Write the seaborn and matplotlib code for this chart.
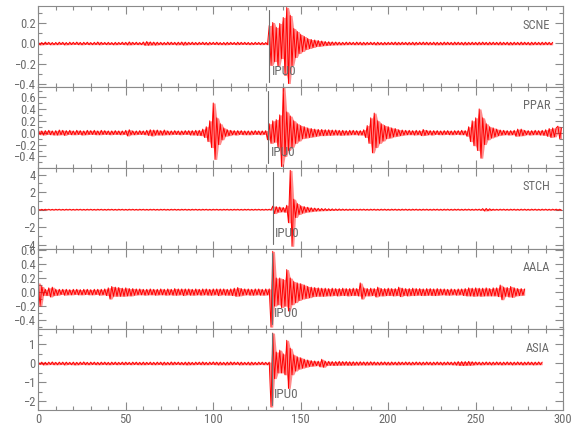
import matplotlib
matplotlib.use('Agg')
import matplotlib.pyplot as plt
from matplotlib import font_manager
import numpy as np
import pandas as pd
import seaborn as sns
from matplotlib.ticker import MultipleLocator

# ============================================================
# Five station traces, picked P arrival (IPU0)
# values: signed peak/trough per second
# ============================================================

STATIONS = ["SCNE", "PPAR", "STCH", "AALA", "ASIA"]
PICK_TIMES = [132.0, 131.5, 134.0, 133.4, 133.4]
PICK_LABEL = "IPU0"
Y_LIMITS = [(-0.434, 0.373), (-0.59, 0.77), (-4.45, 4.8), (-0.53, 0.62), (-2.46, 1.8)]
Y_MAJOR = [0.2, 0.2, 2, 0.2, 1]
Y_MINOR = [0.1, 0.1, 1, 0.1, 0.5]
X_TICKS = [0, 50, 100, 150, 200, 250, 300]

scne = [
    0.012, -0.015, 0.010, -0.012, 0.014, -0.010, 0.012, -0.013, 0.010, -0.012,
    0.011, -0.012, 0.013, -0.010, 0.012, -0.014, 0.010, -0.012, 0.013, -0.011,
    0.012, -0.010, 0.014, -0.012, 0.011, -0.013, 0.012, -0.010, 0.013, -0.012,
    0.010, -0.012, 0.012, -0.011, 0.015, -0.013, 0.012, -0.010, 0.011, -0.012,
    0.012, -0.011, 0.010, -0.013, 0.012, -0.012, 0.011, -0.010, 0.013, -0.012,
    0.012, -0.014, 0.016, -0.013, 0.012, -0.011, 0.013, -0.012, 0.010, -0.012,
    0.015, -0.018, 0.020, -0.017, 0.016, -0.015, 0.014, -0.016, 0.013, -0.012,
    0.012, -0.013, 0.011, -0.012, 0.014, -0.012, 0.013, -0.011, 0.012, -0.014,
    0.013, -0.012, 0.015, -0.016, 0.014, -0.013, 0.012, -0.011, 0.013, -0.012,
    0.011, -0.012, 0.012, -0.010, 0.013, -0.012, 0.011, -0.013, 0.012, -0.010,
    0.012, -0.011, 0.013, -0.012, 0.010, -0.012, 0.011, -0.013, 0.012, -0.011,
    0.012, -0.010, 0.011, -0.012, 0.013, -0.011, 0.012, -0.010, 0.012, -0.011,
    0.011, -0.012, 0.010, -0.011, 0.012, -0.010, 0.011, -0.012, 0.010, -0.011,
    0.010, -0.012, 0.180, -0.220, 0.210, -0.180, 0.160, -0.230, 0.200, -0.150,
    0.260, -0.320, 0.360, -0.400, 0.280, -0.220, 0.150, -0.140, 0.120, -0.100,
    0.090, -0.080, 0.070, -0.060, 0.050, -0.050, 0.040, -0.040, 0.035, -0.030,
    0.030, -0.028, 0.025, -0.022, 0.020, -0.020, 0.018, -0.017, 0.016, -0.015,
    0.015, -0.014, 0.013, -0.014, 0.012, -0.013, 0.014, -0.012, 0.013, -0.012,
    0.012, -0.013, 0.014, -0.012, 0.013, -0.014, 0.012, -0.013, 0.012, -0.011,
    0.013, -0.012, 0.012, -0.014, 0.013, -0.012, 0.011, -0.013, 0.012, -0.012,
    0.012, -0.011, 0.013, -0.012, 0.014, -0.013, 0.012, -0.012, 0.013, -0.011,
    0.012, -0.013, 0.012, -0.012, 0.013, -0.014, 0.012, -0.011, 0.013, -0.012,
    0.014, -0.012, 0.013, -0.013, 0.012, -0.012, 0.013, -0.014, 0.012, -0.013,
    0.012, -0.013, 0.014, -0.012, 0.013, -0.012, 0.012, -0.013, 0.014, -0.012,
    0.013, -0.012, 0.012, -0.014, 0.013, -0.013, 0.012, -0.012, 0.013, -0.012,
    0.012, -0.013, 0.013, -0.012, 0.014, -0.012, 0.012, -0.013, 0.013, -0.012,
    0.013, -0.012, 0.012, -0.013, 0.014, -0.013, 0.012, -0.012, 0.013, -0.014,
    0.012, -0.013, 0.013, -0.012, 0.012, -0.013, 0.014, -0.012, 0.013, -0.012,
    0.012, -0.014, 0.013, -0.012, 0.013, -0.012, 0.012, -0.013, 0.013, -0.012,
    0.013, -0.012, 0.012, -0.013, 0.012,
]

ppar = [
    0.040, -0.035, 0.030, -0.040, 0.035, -0.030, 0.040, -0.035, 0.030, -0.040,
    0.035, -0.040, 0.045, -0.035, 0.040, -0.045, 0.035, -0.030, 0.040, -0.035,
    0.030, -0.035, 0.040, -0.030, 0.035, -0.040, 0.030, -0.035, 0.040, -0.030,
    0.035, -0.030, 0.040, -0.035, 0.030, -0.035, 0.040, -0.030, 0.035, -0.030,
    0.030, -0.035, 0.030, -0.030, 0.035, -0.030, 0.030, -0.035, 0.030, -0.030,
    0.040, -0.055, 0.050, -0.035, 0.030, -0.035, 0.030, -0.030, 0.035, -0.030,
    0.030, -0.035, 0.040, -0.045, 0.050, -0.055, 0.045, -0.040, 0.045, -0.040,
    0.035, -0.040, 0.045, -0.035, 0.030, -0.035, 0.030, -0.030, 0.035, -0.030,
    0.030, -0.035, 0.030, -0.030, 0.035, -0.030, 0.035, -0.040, 0.035, -0.040,
    0.040, -0.045, 0.040, -0.050, 0.060, -0.080, 0.100, -0.150, 0.200, -0.250,
    0.500, -0.450, 0.250, -0.200, 0.150, -0.120, 0.080, -0.060, 0.050, -0.050,
    0.040, -0.035, 0.035, -0.040, 0.035, -0.030, 0.035, -0.035, 0.030, -0.035,
    0.030, -0.035, 0.030, -0.030, 0.035, -0.030, 0.030, -0.035, 0.030, -0.030,
    0.035, -0.120, 0.150, -0.180, 0.200, -0.160, 0.220, -0.250, 0.300, -0.570,
    0.770, -0.400, 0.350, -0.300, 0.280, -0.250, 0.200, -0.180, 0.150, -0.140,
    0.120, -0.100, 0.100, -0.090, 0.080, -0.080, 0.070, -0.070, 0.060, -0.060,
    0.055, -0.050, 0.055, -0.050, 0.050, -0.045, 0.050, -0.045, 0.045, -0.040,
    0.045, -0.040, 0.040, -0.045, 0.040, -0.040, 0.035, -0.040, 0.040, -0.035,
    0.040, -0.035, 0.035, -0.040, 0.035, -0.040, 0.050, -0.080, 0.120, -0.180,
    0.250, -0.340, 0.330, -0.250, 0.200, -0.180, 0.150, -0.140, 0.120, -0.100,
    0.100, -0.090, 0.080, -0.070, 0.070, -0.060, 0.050, -0.050, 0.045, -0.040,
    0.040, -0.035, 0.040, -0.035, 0.035, -0.040, 0.040, -0.035, 0.035, -0.050,
    0.055, -0.045, 0.040, -0.035, 0.035, -0.040, 0.035, -0.030, 0.035, -0.035,
    0.030, -0.035, 0.035, -0.030, 0.035, -0.035, 0.030, -0.035, 0.035, -0.030,
    0.035, -0.035, 0.040, -0.035, 0.035, -0.060, 0.100, -0.150, 0.200, -0.220,
    0.250, -0.300, 0.400, -0.430, 0.250, -0.200, 0.150, -0.120, 0.100, -0.090,
    0.080, -0.070, 0.060, -0.050, 0.045, -0.040, 0.040, -0.035, 0.035, -0.040,
    0.035, -0.035, 0.040, -0.060, 0.060, -0.055, 0.060, -0.050, 0.040, -0.035,
    0.035, -0.040, 0.035, -0.035, 0.040, -0.035, 0.035, -0.040, 0.040, -0.045,
    0.050, -0.060, 0.070, -0.080, 0.080, -0.070, 0.080, 0.110, -0.100, 0.080,
]

stch = [
    0.05, -0.05, 0.04, -0.05, 0.05, -0.04, 0.05, -0.05, 0.04, -0.05,
    0.05, -0.04, 0.05, -0.05, 0.04, -0.05, 0.05, -0.04, 0.05, -0.05,
    0.04, -0.05, 0.05, -0.04, 0.05, -0.05, 0.04, -0.05, 0.05, -0.04,
    0.05, -0.05, 0.04, -0.05, 0.05, -0.04, 0.05, -0.05, 0.04, -0.05,
    0.05, -0.04, 0.05, -0.05, 0.04, -0.05, 0.05, -0.04, 0.05, -0.05,
    0.04, -0.05, 0.05, -0.04, 0.05, -0.05, 0.04, -0.05, 0.05, -0.04,
    0.05, -0.05, 0.04, -0.05, 0.05, -0.04, 0.05, -0.05, 0.04, -0.05,
    0.05, -0.04, 0.05, -0.05, 0.04, -0.05, 0.05, -0.04, 0.05, -0.05,
    0.04, -0.05, 0.05, -0.04, 0.05, -0.05, 0.04, -0.05, 0.05, -0.04,
    0.05, -0.05, 0.04, -0.05, 0.05, -0.04, 0.05, -0.05, 0.04, -0.05,
    0.05, -0.04, 0.05, -0.05, 0.04, -0.05, 0.05, -0.04, 0.05, -0.05,
    0.04, -0.05, 0.05, -0.04, 0.05, -0.05, 0.04, -0.05, 0.05, -0.04,
    0.05, -0.05, 0.04, -0.05, 0.05, -0.04, 0.05, -0.05, 0.04, -0.05,
    0.05, -0.04, 0.05, -0.05, 0.40, -0.45, 0.35, -0.30, 0.30, -0.25,
    0.25, -0.30, 0.50, -1.50, 4.50, -4.20, 1.20, -0.90, 0.70, -0.55,
    0.45, -0.40, 0.35, -0.30, 0.28, -0.25, 0.22, -0.20, 0.18, -0.16,
    0.15, -0.14, 0.13, -0.12, 0.12, -0.11, 0.10, -0.10, 0.09, -0.09,
    0.08, -0.08, 0.08, -0.07, 0.07, -0.07, 0.06, -0.07, 0.06, -0.06,
    0.06, -0.06, 0.05, -0.06, 0.06, -0.05, 0.06, -0.06, 0.05, -0.06,
    0.06, -0.05, 0.06, -0.06, 0.05, -0.06, 0.06, -0.05, 0.06, -0.06,
    0.05, -0.06, 0.06, -0.05, 0.06, -0.06, 0.05, -0.06, 0.06, -0.05,
    0.06, -0.06, 0.05, -0.06, 0.06, -0.05, 0.06, -0.06, 0.05, -0.06,
    0.06, -0.05, 0.06, -0.06, 0.05, -0.06, 0.06, -0.05, 0.06, -0.06,
    0.05, -0.06, 0.06, -0.05, 0.06, -0.06, 0.05, -0.06, 0.06, -0.05,
    0.06, -0.06, 0.05, -0.06, 0.06, -0.05, 0.06, -0.06, 0.05, -0.06,
    0.06, -0.05, 0.06, -0.08, 0.12, -0.15, 0.14, -0.12, 0.10, -0.08,
    0.06, -0.06, 0.05, -0.06, 0.06, -0.05, 0.06, -0.06, 0.05, -0.06,
    0.06, -0.05, 0.06, -0.06, 0.05, -0.06, 0.06, -0.05, 0.06, -0.06,
    0.05, -0.06, 0.06, -0.05, 0.06, -0.06, 0.05, -0.06, 0.06, -0.05,
    0.06, -0.06, 0.05, -0.06, 0.06, -0.05, 0.06, -0.06, 0.05, -0.06,
]

aala = [
    0.130, -0.200, 0.080, -0.050, 0.040, -0.050, 0.060, -0.070, 0.070, -0.050,
    0.040, -0.045, 0.040, -0.035, 0.040, -0.045, 0.040, -0.040, 0.035, -0.040,
    0.040, -0.035, 0.040, -0.040, 0.035, -0.040, 0.040, -0.035, 0.040, -0.040,
    0.035, -0.040, 0.040, -0.035, 0.040, -0.045, 0.040, -0.040, 0.045, -0.050,
    0.060, -0.100, 0.080, -0.060, 0.070, -0.060, 0.065, -0.060, 0.055, -0.060,
    0.060, -0.055, 0.050, -0.055, 0.050, -0.045, 0.045, -0.040, 0.045, -0.040,
    0.040, -0.045, 0.040, -0.040, 0.045, -0.040, 0.040, -0.045, 0.040, -0.040,
    0.045, -0.040, 0.040, -0.045, 0.045, -0.040, 0.040, -0.045, 0.050, -0.045,
    0.045, -0.040, 0.045, -0.050, 0.045, -0.040, 0.045, -0.045, 0.040, -0.045,
    0.045, -0.040, 0.040, -0.045, 0.045, -0.040, 0.045, -0.045, 0.040, -0.045,
    0.045, -0.040, 0.045, -0.050, 0.045, -0.040, 0.045, -0.045, 0.040, -0.045,
    0.045, -0.050, 0.055, -0.060, 0.065, -0.055, 0.050, -0.045, 0.045, -0.040,
    0.045, -0.045, 0.040, -0.045, 0.045, -0.040, 0.045, -0.045, 0.040, -0.045,
    0.045, -0.040, 0.045, -0.500, 0.580, -0.200, 0.200, -0.180, 0.200, -0.220,
    0.180, -0.200, 0.320, -0.270, 0.200, -0.180, 0.150, -0.150, 0.130, -0.120,
    0.120, -0.100, 0.100, -0.090, 0.080, -0.080, 0.070, -0.065, 0.065, -0.060,
    0.060, -0.060, 0.055, -0.060, 0.055, -0.055, 0.050, -0.055, 0.055, -0.050,
    0.050, -0.055, 0.050, -0.050, 0.055, -0.050, 0.050, -0.055, 0.050, -0.050,
    0.055, -0.050, 0.050, -0.055, 0.130, -0.100, 0.060, -0.055, 0.050, -0.055,
    0.055, -0.050, 0.050, -0.070, 0.070, -0.055, 0.050, -0.055, 0.050, -0.050,
    0.055, -0.050, 0.050, -0.055, 0.050, -0.050, 0.070, -0.065, 0.055, -0.050,
    0.050, -0.055, 0.050, -0.050, 0.055, -0.050, 0.050, -0.045, 0.050, -0.050,
    0.045, -0.050, 0.050, -0.045, 0.050, -0.050, 0.045, -0.050, 0.050, -0.045,
    0.045, -0.040, 0.045, -0.045, 0.040, -0.045, 0.045, -0.040, 0.040, -0.045,
    0.045, -0.040, 0.045, -0.050, 0.050, -0.055, 0.060, -0.055, 0.055, -0.060,
    0.060, -0.055, 0.055, -0.060, 0.055, -0.055, 0.060, -0.055, 0.050, -0.055,
    0.060, -0.055, 0.060, -0.065, 0.100, -0.110, 0.070, -0.060, 0.065, -0.070,
    0.080, -0.075, 0.060, -0.055, 0.050, -0.050, 0.050, -0.045, 0.045,
]

asia = [
    0.07, -0.06, 0.07, -0.08, 0.06, -0.07, 0.07, -0.06, 0.08, -0.07,
    0.06, -0.07, 0.07, -0.06, 0.07, -0.08, 0.07, -0.06, 0.06, -0.07,
    0.07, -0.08, 0.06, -0.07, 0.07, -0.06, 0.08, -0.07, 0.06, -0.07,
    0.07, -0.06, 0.07, -0.07, 0.06, -0.07, 0.07, -0.06, 0.07, -0.07,
    0.06, -0.07, 0.07, -0.06, 0.07, -0.07, 0.06, -0.06, 0.07, -0.07,
    0.07, -0.06, 0.06, -0.07, 0.07, -0.06, 0.07, -0.07, 0.06, -0.07,
    0.07, -0.07, 0.06, -0.06, 0.07, -0.07, 0.06, -0.07, 0.07, -0.06,
    0.07, -0.08, 0.07, -0.07, 0.06, -0.07, 0.08, -0.07, 0.07, -0.06,
    0.07, -0.07, 0.06, -0.07, 0.07, -0.08, 0.07, -0.07, 0.06, -0.07,
    0.07, -0.06, 0.07, -0.07, 0.08, -0.07, 0.06, -0.07, 0.07, -0.06,
    0.08, -0.07, 0.07, -0.08, 0.07, -0.07, 0.06, -0.08, 0.07, -0.07,
    0.08, -0.07, 0.07, -0.06, 0.07, -0.08, 0.07, -0.07, 0.06, -0.07,
    0.07, -0.08, 0.07, -0.07, 0.06, -0.07, 0.07, -0.06, 0.07, -0.07,
    0.06, -0.07, 0.07, -2.30, 1.60, -0.80, 0.60, -0.50, 0.70, -0.50,
    0.50, -0.60, 1.22, -1.32, 0.80, -0.60, 0.45, -0.40, 0.35, -0.30,
    0.30, -0.25, 0.22, -0.20, 0.18, -0.16, 0.15, -0.14, 0.13, -0.12,
    0.12, -0.18, 0.22, -0.20, 0.12, -0.11, 0.11, -0.10, 0.10, -0.11,
    0.10, -0.10, 0.11, -0.10, 0.10, -0.09, 0.10, -0.10, 0.09, -0.10,
    0.09, -0.09, 0.08, -0.09, 0.09, -0.08, 0.08, -0.09, 0.08, -0.08,
    0.09, -0.08, 0.08, -0.08, 0.07, -0.08, 0.08, -0.07, 0.08, -0.08,
    0.07, -0.08, 0.08, -0.07, 0.07, -0.08, 0.08, -0.07, 0.07, -0.07,
    0.08, -0.07, 0.07, -0.08, 0.07, -0.07, 0.08, -0.07, 0.07, -0.08,
    0.07, -0.07, 0.08, -0.07, 0.07, -0.08, 0.07, -0.07, 0.08, -0.07,
    0.07, -0.08, 0.07, -0.07, 0.08, -0.07, 0.07, -0.08, 0.08, -0.09,
    0.10, -0.11, 0.10, -0.11, 0.10, -0.10, 0.11, -0.10, 0.09, -0.08,
    0.08, -0.07, 0.07, -0.08, 0.07, -0.07, 0.08, -0.07, 0.07, -0.08,
    0.07, -0.07, 0.08, -0.07, 0.07, -0.08, 0.07, -0.07, 0.08, -0.07,
    0.07, -0.08, 0.07, -0.07, 0.08, -0.07, 0.07, -0.08, 0.07, -0.07,
    0.08, -0.07, 0.07, -0.08, 0.07, -0.07, 0.08, -0.07, 0.07,
]

TRACES = [scne, ppar, stch, aala, asia]

sns.set_style("ticks")
installed = {f.name for f in font_manager.fontManager.ttflist}
narrow = [f for f in ["Liberation Sans Narrow", "DejaVu Sans Condensed",
                      "Roboto Condensed", "Liberation Sans"] if f in installed]
plt.rcParams['font.family'] = narrow[:1] + ['DejaVu Sans']

TRACE_RED = "#ff0000"
TEXT_GREY = "#6a6a6a"
AXIS_GREY = "#8a8a8a"
PICK_GREY = "#707070"

fig, axes = plt.subplots(5, 1, sharex=True, figsize=(5.8, 4.4), dpi=100)
fig.subplots_adjust(left=0.066, right=0.971, bottom=0.068, top=0.986, hspace=0)

for ax, name, vals, pick, ylim, ymaj, ymin in zip(
        axes, STATIONS, TRACES, PICK_TIMES, Y_LIMITS, Y_MAJOR, Y_MINOR):
    df = pd.DataFrame({"time": np.arange(len(vals)), "amp": vals})
    # band between neighbouring peak and trough, so the noise reads as a solid trace
    hi = df["amp"].rolling(2, min_periods=1).max().clip(lower=0)
    lo = df["amp"].rolling(2, min_periods=1).min().clip(upper=0)
    ax.fill_between(df["time"], lo, hi, color=TRACE_RED, alpha=0.45, lw=0)
    sns.lineplot(data=df, x="time", y="amp", ax=ax, color=TRACE_RED,
                 linewidth=0.7, estimator=None, sort=False)
    ax.axvline(pick, ymin=0.06, ymax=0.95, color=PICK_GREY, lw=0.8)
    ax.text(pick + 1.5, 0.19, PICK_LABEL, transform=ax.get_xaxis_transform(),
            ha="left", va="center", fontsize=9.5, color=TEXT_GREY)
    ax.text(0.975, 0.765, name, transform=ax.transAxes,
            ha="right", va="center", fontsize=9, color=TEXT_GREY)

    ax.set_xlim(0, 300)
    ax.set_ylim(*ylim)
    ax.yaxis.set_major_locator(MultipleLocator(ymaj))
    ax.yaxis.set_minor_locator(MultipleLocator(ymin))
    ax.xaxis.set_major_locator(MultipleLocator(50))
    ax.xaxis.set_minor_locator(MultipleLocator(10))
    if ymaj < 1:
        ax.yaxis.set_major_formatter(lambda v, p: f"{v:.1f}".replace("-", "\u2212"))
    else:
        ax.yaxis.set_major_formatter(lambda v, p: f"{v:.0f}".replace("-", "\u2212"))
    ax.tick_params(which="both", direction="in", top=True, right=True,
                   color=AXIS_GREY, labelcolor=TEXT_GREY, width=0.8)
    ax.tick_params(which="major", length=6, labelsize=9, pad=2)
    ax.tick_params(which="minor", length=3)
    for sp in ax.spines.values():
        sp.set_color(AXIS_GREY)
        sp.set_linewidth(0.8)
    ax.set_xlabel("")
    ax.set_ylabel("")

axes[-1].set_xticks(X_TICKS)
axes[-1].set_xticklabels([str(v) for v in X_TICKS])

plt.savefig("out.png", dpi=100)
plt.close()
